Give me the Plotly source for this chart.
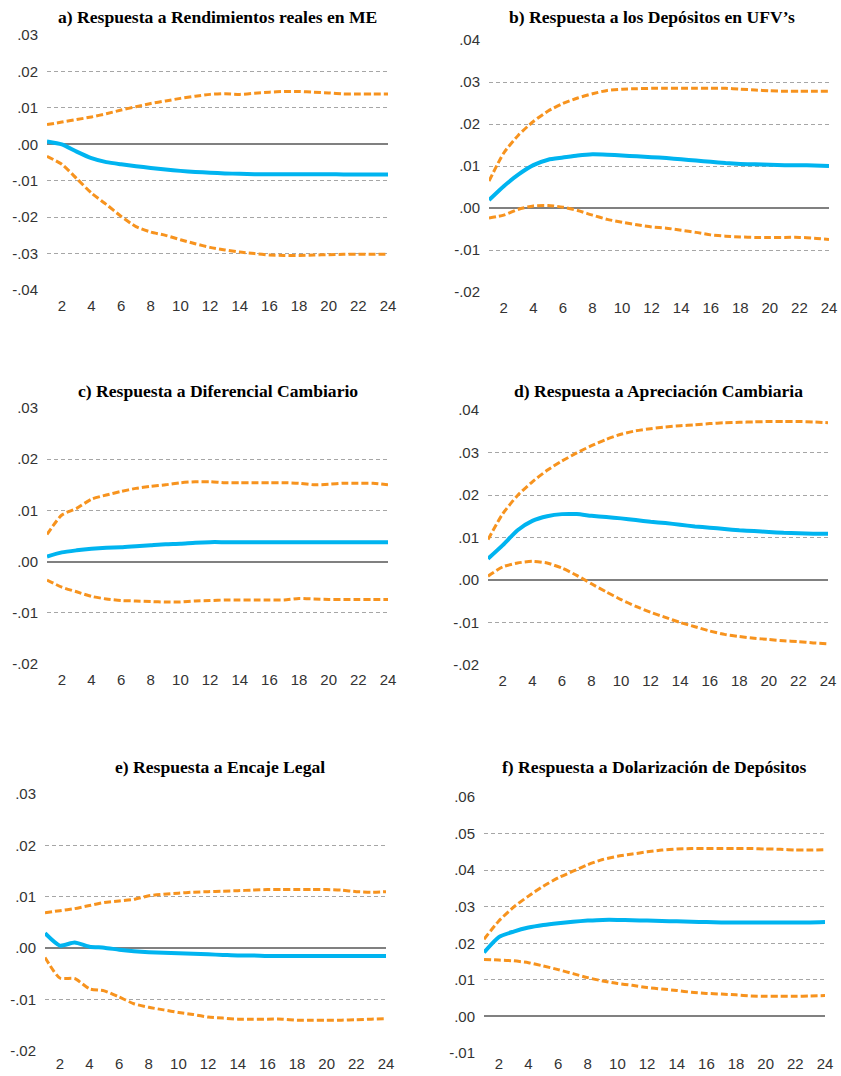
import plotly.graph_objects as go

# Horizonte (periodos) de las funciones impulso-respuesta
periodos = list(range(1, 25))

# a) Respuesta a Rendimientos reales en ME
a_resp = [0.0008, 0.0000, -0.0020, -0.0038, -0.0049, -0.0055, -0.0060, -0.0065, -0.0069, -0.0073,
          -0.0076, -0.0078, -0.0080, -0.0081, -0.0082, -0.0082, -0.0082, -0.0082, -0.0082, -0.0082,
          -0.0083, -0.0083, -0.0083, -0.0083]
a_sup = [0.0054, 0.0061, 0.0068, 0.0075, 0.0084, 0.0094, 0.0103, 0.0112, 0.0119, 0.0126,
         0.0132, 0.0137, 0.0139, 0.0137, 0.0140, 0.0143, 0.0145, 0.0145, 0.0143, 0.0141,
         0.0138, 0.0138, 0.0138, 0.0138]
a_inf = [-0.0033, -0.0055, -0.0094, -0.0134, -0.0165, -0.0198, -0.0226, -0.0241, -0.0250, -0.0262,
         -0.0273, -0.0283, -0.0290, -0.0296, -0.0300, -0.0304, -0.0305, -0.0305, -0.0304, -0.0303,
         -0.0302, -0.0302, -0.0302, -0.0302]

# b) Respuesta a los Depósitos en UFV's
b_resp = [0.0019, 0.0052, 0.0080, 0.0102, 0.0115, 0.0120, 0.0125, 0.0128, 0.0127, 0.0125,
          0.0123, 0.0121, 0.0119, 0.0116, 0.0113, 0.0110, 0.0107, 0.0105, 0.0104, 0.0103,
          0.0102, 0.0102, 0.0101, 0.0100]
b_sup = [0.0064, 0.0131, 0.0174, 0.0206, 0.0231, 0.0249, 0.0262, 0.0272, 0.0280, 0.0283,
         0.0284, 0.0285, 0.0285, 0.0285, 0.0285, 0.0285, 0.0285, 0.0283, 0.0281, 0.0279,
         0.0278, 0.0278, 0.0278, 0.0278]
b_inf = [-0.0024, -0.0017, -0.0003, 0.0005, 0.0006, 0.0002, -0.0006, -0.0017, -0.0027, -0.0034,
         -0.0040, -0.0045, -0.0048, -0.0053, -0.0058, -0.0064, -0.0067, -0.0069, -0.0070, -0.0070,
         -0.0070, -0.0070, -0.0072, -0.0075]

# c) Respuesta a Diferencial Cambiario
c_resp = [0.0010, 0.0018, 0.0022, 0.0025, 0.0027, 0.0028, 0.0030, 0.0032, 0.0034, 0.0035,
          0.0037, 0.0038, 0.0038, 0.0038, 0.0038, 0.0038, 0.0038, 0.0038, 0.0038, 0.0038,
          0.0038, 0.0038, 0.0038, 0.0038]
c_sup = [0.0053, 0.0091, 0.0104, 0.0122, 0.0130, 0.0137, 0.0143, 0.0147, 0.0150, 0.0154,
         0.0156, 0.0156, 0.0154, 0.0154, 0.0154, 0.0154, 0.0154, 0.0153, 0.0150, 0.0151,
         0.0153, 0.0153, 0.0153, 0.0150]
c_inf = [-0.0036, -0.0050, -0.0059, -0.0068, -0.0073, -0.0076, -0.0077, -0.0078, -0.0079, -0.0079,
         -0.0077, -0.0076, -0.0075, -0.0075, -0.0075, -0.0075, -0.0075, -0.0072, -0.0073, -0.0074,
         -0.0074, -0.0074, -0.0074, -0.0074]

# d) Respuesta a Apreciación Cambiaria
d_resp = [0.0050, 0.0082, 0.0117, 0.0139, 0.0150, 0.0155, 0.0155, 0.0151, 0.0148, 0.0145,
          0.0141, 0.0137, 0.0134, 0.0130, 0.0126, 0.0123, 0.0120, 0.0117, 0.0115, 0.0113,
          0.0111, 0.0110, 0.0109, 0.0109]
d_sup = [0.0095, 0.0156, 0.0199, 0.0231, 0.0258, 0.0280, 0.0299, 0.0316, 0.0331, 0.0343,
         0.0351, 0.0356, 0.0360, 0.0363, 0.0365, 0.0368, 0.0370, 0.0371, 0.0372, 0.0373,
         0.0373, 0.0373, 0.0372, 0.0370]
d_inf = [0.0009, 0.0031, 0.0040, 0.0044, 0.0040, 0.0028, 0.0011, -0.0009, -0.0028, -0.0046,
         -0.0062, -0.0076, -0.0088, -0.0100, -0.0110, -0.0120, -0.0128, -0.0133, -0.0137, -0.0140,
         -0.0143, -0.0145, -0.0148, -0.0150]

# e) Respuesta a Encaje Legal
e_resp = [0.0029, 0.0005, 0.0011, 0.0003, 0.0001, -0.0003, -0.0006, -0.0008, -0.0009, -0.0010,
          -0.0011, -0.0012, -0.0013, -0.0014, -0.0014, -0.0015, -0.0015, -0.0015, -0.0015, -0.0015,
          -0.0015, -0.0015, -0.0015, -0.0015]
e_sup = [0.0069, 0.0073, 0.0077, 0.0083, 0.0089, 0.0092, 0.0095, 0.0102, 0.0105, 0.0107,
         0.0109, 0.0110, 0.0111, 0.0112, 0.0113, 0.0114, 0.0114, 0.0114, 0.0114, 0.0114,
         0.0113, 0.0110, 0.0109, 0.0110]
e_inf = [-0.0018, -0.0058, -0.0059, -0.0079, -0.0083, -0.0095, -0.0108, -0.0115, -0.0120, -0.0125,
         -0.0129, -0.0134, -0.0136, -0.0138, -0.0138, -0.0138, -0.0138, -0.0140, -0.0140, -0.0140,
         -0.0140, -0.0139, -0.0138, -0.0137]

# f) Respuesta a Dolarización de Depósitos
f_resp = [0.0175, 0.0217, 0.0232, 0.0243, 0.0250, 0.0255, 0.0259, 0.0262, 0.0264, 0.0264,
          0.0263, 0.0262, 0.0261, 0.0260, 0.0259, 0.0258, 0.0257, 0.0257, 0.0257, 0.0257,
          0.0257, 0.0257, 0.0257, 0.0258]
f_sup = [0.0211, 0.0261, 0.0299, 0.0329, 0.0356, 0.0379, 0.0397, 0.0415, 0.0429, 0.0438,
         0.0444, 0.0450, 0.0455, 0.0458, 0.0459, 0.0459, 0.0459, 0.0459, 0.0459, 0.0458,
         0.0457, 0.0455, 0.0455, 0.0456]
f_inf = [0.0156, 0.0154, 0.0152, 0.0147, 0.0138, 0.0128, 0.0117, 0.0106, 0.0097, 0.0090,
         0.0085, 0.0079, 0.0075, 0.0071, 0.0066, 0.0063, 0.0061, 0.0059, 0.0056, 0.0055,
         0.0055, 0.0055, 0.0056, 0.0057]

titulos = [
    "a) Respuesta a Rendimientos reales en ME",
    "b) Respuesta a los Depósitos en UFV’s",
    "c) Respuesta a Diferencial Cambiario",
    "d) Respuesta a Apreciación Cambiaria",
    "e) Respuesta a Encaje Legal",
    "f) Respuesta a Dolarización de Depósitos",
]

# Marcas del eje y por panel
ticks_a = [-0.04, -0.03, -0.02, -0.01, 0.0, 0.01, 0.02, 0.03]
labels_a = ["-.04", "-.03", "-.02", "-.01", ".00", ".01", ".02", ".03"]
ticks_b = [-0.02, -0.01, 0.0, 0.01, 0.02, 0.03, 0.04]
labels_b = ["-.02", "-.01", ".00", ".01", ".02", ".03", ".04"]
ticks_c = [-0.02, -0.01, 0.0, 0.01, 0.02, 0.03]
labels_c = ["-.02", "-.01", ".00", ".01", ".02", ".03"]
ticks_f = [-0.01, 0.0, 0.01, 0.02, 0.03, 0.04, 0.05, 0.06]
labels_f = ["-.01", ".00", ".01", ".02", ".03", ".04", ".05", ".06"]

x_ticks = list(range(2, 25, 2))

paneles = [
    (a_resp, a_sup, a_inf, ticks_a, labels_a),
    (b_resp, b_sup, b_inf, ticks_b, labels_b),
    (c_resp, c_sup, c_inf, ticks_c, labels_c),
    (d_resp, d_sup, d_inf, ticks_b, labels_b),
    (e_resp, e_sup, e_inf, ticks_c, labels_c),
    (f_resp, f_sup, f_inf, ticks_f, labels_f),
]

W, H = 841, 1076
# Áreas de trazado en píxeles: (izq, der, arriba, abajo)
areas = [
    (47, 388, 35, 290),
    (489, 829, 40, 292),
    (47, 388, 408, 664),
    (488, 828, 410, 665),
    (45, 386, 794, 1051),
    (484, 825, 797, 1053),
]
titulo_y = [17, 17, 391, 391, 767, 767]
titulo_dx = [0, -7, 0, 0, 5, 0]
# Separación de las etiquetas del eje x (la fila inferior queda junto al borde)
x_standoff = [5, 5, 5, 5, 2, 0]

AZUL = "#00B4F0"
NARANJA = "#F7931E"
GRIS_GRID = "#A6A6A6"
FUENTE = "Liberation Sans, Arial, sans-serif"

fig = go.Figure()
annotations = []
for i, ((resp, sup, inf, tv, tt), (l, r, t, b)) in enumerate(zip(paneles, areas)):
    k = "" if i == 0 else str(i + 1)
    xa, ya = "x" + k, "y" + k
    for serie, color, ancho, dash in [
        (sup, NARANJA, 3, "7px,3px"),
        (inf, NARANJA, 3, "7px,3px"),
        (resp, AZUL, 4, "solid"),
    ]:
        fig.add_trace(go.Scatter(
            x=periodos, y=serie, mode="lines", xaxis=xa, yaxis=ya,
            line=dict(color=color, width=ancho, dash=dash, shape="spline", smoothing=0.6),
            showlegend=False, hoverinfo="skip",
        ))
    fig.layout["xaxis" + k] = dict(
        domain=[l / W, r / W], anchor=ya, range=[1, 24], automargin=False,
        tickvals=x_ticks, ticktext=[str(v) for v in x_ticks],
        showgrid=False, zeroline=False, showline=False, ticks="",
        ticklabelstandoff=x_standoff[i],
        tickfont=dict(family=FUENTE, size=15, color="#333333"),
    )
    fig.layout["yaxis" + k] = dict(
        domain=[1 - b / H, 1 - t / H], anchor=xa, range=[tv[0], tv[-1]], automargin=False,
        tickvals=tv, ticktext=tt,
        showgrid=True, gridcolor=GRIS_GRID, gridwidth=1, griddash="4px,3px",
        zeroline=True, zerolinecolor="#808080", zerolinewidth=1.5,
        showline=False, ticks="", ticklabelstandoff=8,
        tickfont=dict(family=FUENTE, size=15, color="#333333"),
    )
    annotations.append(dict(
        text="<b>" + titulos[i] + "</b>", xref="paper", yref="paper",
        x=((l + r) / 2 + titulo_dx[i]) / W, y=1 - titulo_y[i] / H,
        xanchor="center", yanchor="middle", showarrow=False,
        font=dict(family="Liberation Serif, Times New Roman, serif", size=17.6, color="#000000"),
    ))

fig.update_layout(
    width=W, height=H, margin=dict(l=0, r=0, t=0, b=0, pad=0),
    paper_bgcolor="white", plot_bgcolor="white",
    annotations=annotations,
)

fig.write_html("out.html")
